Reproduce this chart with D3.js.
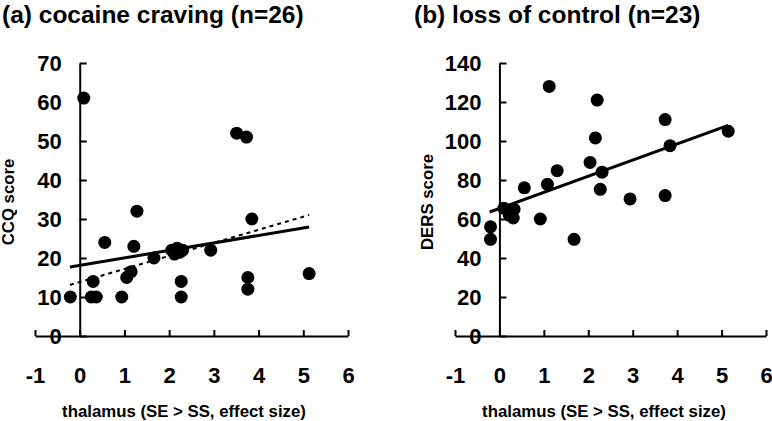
<!DOCTYPE html>
<html>
<head>
<meta charset="utf-8">
<script src="https://cdn.jsdelivr.net/npm/d3@7"></script>
<style>
  body { margin: 0; background: #fff; }
  svg text { font-family: "Liberation Sans", Arial, sans-serif; font-weight: bold; fill: #000; }
  .title { font-size: 24.5px; }
  .tick text { font-size: 22px; }
  .axisLabel { font-size: 16.8px; }
  .domain, .tick line { stroke: #000; stroke-width: 2px; }
</style>
</head>
<body>
<div id="chart"></div>
<script>
// Data: panel (a) cocaine craving
var cravingX = [0.09, 3.51, 3.73, 1.28, 3.85, 0.56, 1.21, 1.66, 2.06, 2.12, 2.18, 2.24, 2.30, 2.93,
                0.30, 1.05, 1.15, 2.27, 3.76, 3.76, 5.13, -0.21, 0.26, 0.37, 0.94, 2.27];
var cravingY = [61, 52, 51, 32, 30, 24, 23, 20, 22, 21, 22.5, 21.5, 22, 22,
                14, 15, 16.5, 14, 15, 12, 16, 10, 10, 10, 10, 10];

// Data: panel (b) loss of control
var controlX = [1.12, 2.20, 3.73, 5.15, 2.16, 3.84, 2.04, 2.31, 1.30, 0.56, 1.08, 2.27, 2.94, 3.73,
                0.10, 0.33, 0.22, 0.31, 0.92, -0.20, -0.20, 1.68, 0.28];
var controlY = [128, 121, 111, 105, 101.6, 97.6, 89, 84, 84.8, 76, 77.8, 75.2, 70.3, 72,
                65.5, 65, 62, 60.5, 60, 56, 49.6, 49.6, 64];

// Fitted lines: [intercept, slope, xStart, xEnd]
var cravingFitSolid = [18.1, 1.92, -0.22, 5.13];
var cravingFitDashed = [13.84, 3.35, -0.22, 5.13];
var controlFit = [65.4, 8.27, -0.22, 5.15];

// Tick labels
var xTicks = [-1, 0, 1, 2, 3, 4, 5, 6];
var cravingTicks = [0, 10, 20, 30, 40, 50, 60, 70];
var controlTicks = [0, 20, 40, 60, 80, 100, 120, 140];

var svg = d3.select("#chart")
  .append("svg")
  .attr("width", 772)
  .attr("height", 421);

function drawPanel(p) {
  var xScale = d3.scaleLinear().domain([-1, 6]).range([p.left, p.right]);
  var yScale = d3.scaleLinear().domain([0, p.yMax]).range([336, 63]);

  // Title
  svg.append("text")
    .attr("class", "title")
    .attr("x", p.titleX)
    .attr("y", 22.5)
    .text(p.title);

  // x axis (ticks point up)
  svg.append("g")
    .attr("transform", "translate(0," + yScale(0) + ")")
    .call(d3.axisBottom(xScale).tickValues(xTicks).tickSizeInner(-6).tickSizeOuter(0).tickPadding(31)
      .tickFormat(function(d) { return String(d); }));

  // y axis (ticks point right)
  svg.append("g")
    .attr("transform", "translate(" + xScale(0) + ",0)")
    .call(d3.axisLeft(yScale).tickValues(p.yTicks).tickSizeInner(-7).tickSizeOuter(0).tickPadding(18));

  svg.selectAll(".tick text").style("font-family", null);

  // Axis labels
  svg.append("text")
    .attr("class", "axisLabel")
    .attr("x", p.xLabelX)
    .attr("y", 417)
    .style("text-anchor", "middle")
    .text("thalamus (SE > SS, effect size)");

  svg.append("text")
    .attr("class", "axisLabel")
    .attr("transform", "translate(" + p.yLabelX + ",202) rotate(-90)")
    .style("text-anchor", "middle")
    .text(p.yLabel);

  // Fit lines
  p.fits.forEach(function(f) {
    var fit = f.coef;
    svg.append("line")
      .attr("x1", xScale(fit[2]))
      .attr("y1", yScale(fit[0] + fit[1] * fit[2]))
      .attr("x2", xScale(fit[3]))
      .attr("y2", yScale(fit[0] + fit[1] * fit[3]))
      .attr("stroke", "#000")
      .attr("stroke-width", f.width)
      .attr("stroke-dasharray", f.dash);
  });

  // Points
  svg.append("g").selectAll("circle")
    .data(p.xs)
    .enter()
    .append("circle")
    .attr("cx", function(d) { return xScale(d); })
    .attr("cy", function(d, i) { return yScale(p.ys[i]); })
    .attr("r", 6.5)
    .attr("fill", "#000");
}

drawPanel({
  left: 35, right: 348, yMax: 70, yTicks: cravingTicks,
  title: "(a) cocaine craving (n=26)", titleX: 2,
  yLabel: "CCQ score", yLabelX: 14, xLabelX: 184,
  xs: cravingX, ys: cravingY,
  fits: [
    {coef: cravingFitDashed, width: 2, dash: "4,4"},
    {coef: cravingFitSolid, width: 3, dash: null}
  ]
});

drawPanel({
  left: 455, right: 766, yMax: 140, yTicks: controlTicks,
  title: "(b) loss of control (n=23)", titleX: 414,
  yLabel: "DERS score", yLabelX: 433, xLabelX: 604,
  xs: controlX, ys: controlY,
  fits: [
    {coef: controlFit, width: 3, dash: null}
  ]
});
</script>
</body>
</html>
